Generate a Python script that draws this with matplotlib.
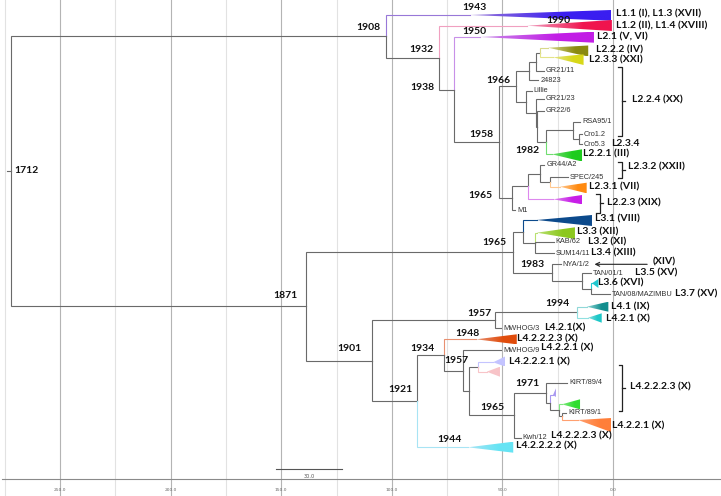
import matplotlib
matplotlib.use("Agg")
import matplotlib.pyplot as plt
import numpy as np
from matplotlib.patches import Polygon
from matplotlib.colors import to_rgb

# ------------------------------------------------------------------ data
# x values are ages (years before present), rows are vertical tree positions
node_names = ["root", "n1908", "n1932", "n1938", "n1958", "n1966", "nC", "nB", "nA",
              "nD", "nE", "nE2", "nH", "nG", "nF", "n1965a", "nI", "nJ", "nK",
              "n1871", "n1965b", "nP", "nQ", "n1983", "nN2", "nN3",
              "n1901", "n1957a", "n1994", "n1921", "n1934", "n1957b", "nT", "nU",
              "n1965c", "n1971", "nV", "nW", "nX"]
node_ages = [272.2, 102.6, 78.7, 71.9, 51.5, 44.0, 38.0, 34.9, 33.0,
             39.5, 34.9, 34.5, 30.4, 18.2, 15.4, 45.8, 38.3, 33.0, 28.5,
             138.8, 45.1, 40.8, 35.3, 27.7, 13.9, 10.1,
             109.1, 53.3, 16.5, 88.7, 76.3, 67.7, 65.1, 61.2,
             44.8, 30.4, 28.5, 24.4, 22.9]
node_children = [["n1908", "n1871"], ["cL1", "n1932"], ["cL12", "n1938"], ["cL21", "n1958"],
                 ["n1966", "n1965a"], ["nC", "nD"], ["nB", "t24823"], ["nA", "tGR2111"],
                 ["cL222", "cL233"], ["tLillie", "nE"], ["tGR2123", "nE2"], ["tGR226", "nH"],
                 ["nG", "cL221"], ["tRSA", "nF"], ["tCro12", "tCro53"], ["nI", "tM1"],
                 ["nJ", "cL223"], ["tGR44", "nK"], ["tSPEC", "cL231"],
                 ["n1965b", "n1901"], ["nP", "n1983"], ["cL31", "nQ"], ["cL33", "tKAB", "tSUM"],
                 ["tNYA", "nN2"], ["tTAN01", "nN3"], ["cL36", "tTAN08"],
                 ["n1957a", "n1921"], ["n1994", "tMWHOG3"], ["cL41", "cL421"],
                 ["n1934", "cL42222"], ["cL42223", "n1957b"], ["tMWHOG9", "nT"],
                 ["nU", "n1965c"], ["cLav", "cPink"], ["n1971", "tKwh"], ["tKIRT4", "nV"],
                 ["cLavTiny", "nW"], ["cGreen4", "nX"], ["tKIRT1", "cOrange4"]]

tip_names = ["tGR2111", "t24823", "tLillie", "tGR2123", "tGR226", "tRSA", "tCro12", "tCro53",
             "tGR44", "tSPEC", "tM1", "tKAB", "tSUM", "tNYA", "tTAN01", "tTAN08",
             "tMWHOG3", "tMWHOG9", "tKIRT4", "tKIRT1", "tKwh"]
tip_labels = ["GR21/11", "24823", "Lillie", "GR21/23", "GR22/6", "RSA95/1", "Cro1.2", "Cro5.3",
              "GR44/A2", "SPEC/245", "M1", "KAB/62", "SUM14/11", "NYA/1/2", "TAN/01/1",
              "TAN/08/MAZIMBU", "MWHOG/3", "MWHOG/9", "KIRT/89/4", "KIRT/89/1", "Kwh/12"]
tip_ages = [31.4, 33.7, 36.8, 31.4, 31.4, 14.9, 14.0, 14.0,
            31.0, 20.3, 44.2, 26.8, 26.7, 23.7, 9.8, 1.5,
            50.6, 50.6, 20.8, 21.1, 41.7]
tip_rows = [70.7, 80.0, 90.7, 99.0, 111.0, 121.7, 134.3, 144.0,
            165.0, 177.3, 210.0, 241.7, 253.3, 264.3, 273.3, 294.3,
            328.3, 350.0, 382.7, 412.7, 437.7]

clade_names = ["cL1", "cL12", "cL21", "cL222", "cL233", "cL221", "cL231", "cL223",
               "cL31", "cL33", "cL36", "cL41", "cL421", "cL42223", "cLav", "cPink",
               "cLavTiny", "cGreen4", "cOrange4", "cL42222"]
clade_apex_ages = [64.6, 38.9, 60.1, 29.4, 27.1, 27.6, 24.0, 27.1,
                   34.5, 34.5, 9.5, 11.9, 11.3, 61.9, 54.2, 57.1,
                   27.1, 23.1, 15.8, 65.6]
clade_base_ages = [0.9, 0.5, 8.6, 11.2, 13.3, 14.0, 11.9, 14.0,
                   9.5, 17.2, 6.6, 2.1, 5.1, 43.5, 48.8, 51.1,
                   25.8, 14.9, 0.9, 45.1]
clade_rows = [15.0, 25.7, 37.0, 47.7, 57.3, 154.3, 186.7, 199.3,
              220.0, 232.7, 283.3, 306.7, 317.7, 339.3, 362.3, 371.7,
              395.0, 404.3, 420.0, 447.3]
clade_tops = [10.0, 20.0, 31.7, 45.5, 54.3, 149.3, 182.7, 195.0,
              215.0, 227.3, 279.0, 301.7, 313.3, 334.3, 356.5, 366.7,
              388.3, 399.3, 418.0, 441.7]
clade_bottoms = [20.7, 31.0, 42.7, 56.5, 65.0, 161.5, 193.3, 204.3,
                 226.0, 239.0, 288.0, 311.7, 322.7, 344.3, 366.5, 376.7,
                 397.0, 409.3, 432.0, 452.7]
clade_colors = ["#3a1ef0", "#f0144e", "#c21ee6", "#8a8a10", "#d8d818", "#1ecc1e", "#ff8a10", "#c81ee8",
                "#0c4a8c", "#8cc81e", "#20c8d0", "#128e8e", "#1ec8c8", "#e04c0c", "#c4c4ff", "#f8c4c8",
                "#a898f0", "#30dd30", "#ff7f3a", "#66e4f4"]
clade_branch_colors = ["#9878d8", "#f0a0c0", "#c890e8", "#d8d88a", "#e4e48a", "#70dd70", "#ffc890", "#dd88ee",
                       "#0c4a8c", "#b8e070", "#20c8d0", "#90d8d8", "#90e0e0", "#e89070", "#c4c4ff", "#f8c4c8",
                       "#a898f0", "#80e880", "#ffa070", "#a8e4f4"]

# node date labels: node, text, offset of right edge (px), vertical offset (px)
date_nodes = ["n1908", "n1932", "n1938", "n1958", "n1966", "nH", "n1965a", "n1871", "n1965b",
              "n1983", "n1994", "n1957a", "n1901", "n1921", "n1934", "n1957b", "n1965c", "n1971"]
date_texts = ["1908", "1932", "1938", "1958", "1966", "1982", "1965", "1871", "1965",
              "1983", "1994", "1957", "1901", "1921", "1934", "1957", "1965", "1971"]
date_dx = [-6, -5, -20, -6, -5, -6, -19, -8, -6.6, -7.7, -6.5, -4, -9.7, -4.7, -10, 5, -9, -5.7]
date_dy = [-9, -8.5, -2, -8, -6, 8, -3, -11, -9.5, -8, -9, -7, -11.7, -11.8, -6.6, -9.8, -7.5, -8.7]

# clade date labels: clade, text, center offset (px) from apex
cdate_clades = ["cL1", "cL12", "cL21", "cL42223", "cL42222"]
cdate_texts = ["1943", "1990", "1950", "1948", "1944"]
cdate_dx = [4, 31, -6, -9, -18]
cdate_dy = [-8, -5, -5.3, -5.3, -8]

# bold lineage labels: text, age of left edge, row
lin_texts = ["L1.1 (I), L1.3 (XVII)", "L1.2 (II), L1.4 (XVIII)", "L2.1 (V, VI)", "L2.2.2 (IV)",
             "L2.3.3 (XXI)", "L2.2.4 (XX)", "L2.3.4", "L2.2.1 (III)", "L2.3.2 (XXII)",
             "L2.3.1 (VII)", "L2.2.3 (XIX)", "L3.1 (VIII)", "L3.3 (XII)", "L3.2 (XI)",
             "L3.4 (XIII)", "(XIV)", "L3.5 (XV)", "L3.6 (XVI)", "L3.7 (XV)", "L4.1 (IX)",
             "L4.2.1 (X)", "L4.2.1(X)", "L4.2.2.2.3 (X)", "L4.2.2.1 (X)", "L4.2.2.2.1 (X)",
             "L4.2.2.2.3 (X)", "L4.2.2.1 (X)", "L4.2.2.2.3 (X)", "L4.2.2.2.2 (X)"]
lin_ages = [-1.2, -1.2, 7.4, 7.7, 10.8, -8.6, 0.9, 13.4, -6.8,
            10.7, 2.8, 8.1, 16.1, 11.2, 10.1, -18.1, -9.9, 6.6, -28.0, 0.9,
            3.3, 31.1, 43.3, 32.5, 46.9, -7.7, 0.3, 28.2, 43.9]
lin_rows = [14, 25.7, 37.3, 50, 60, 100, 144, 154.3, 166.7,
            186.7, 202.7, 219.3, 231.7, 241.7, 253.3, 262, 273.3, 283.3, 294.3, 306.7,
            319, 327.7, 339, 348.3, 361.7, 387.3, 425.7, 436, 446]

bracket_ages = [-3.9, -3.9, 5.9, -4.2]
bracket_tops = [66.7, 161.7, 194.0, 365.0]
bracket_bottoms = [136.0, 178.3, 212.7, 410.7]

arrow_from_age, arrow_to_age, arrow_row = -16.7, 9.6, 264.3

grid_ages = [275, 250, 225, 200, 175, 150, 125, 100, 75, 50, 25, 0]
tick_ages = [250, 200, 150, 100, 50, 0]
tick_labels = ["250.0", "200.0", "150.0", "100.0", "50.0", "0.0"]
scale_len = 30.0
scale_start_age = 152.4

# ------------------------------------------------------------------ layout
W, H = 721, 496
PXY = 2.212          # pixels per year
ZERO_PX = 613        # pixel column of age 0
BRANCH = "#6a6a6a"

fig = plt.figure(figsize=(W / 100, H / 100), dpi=100)
ax = fig.add_axes([0, 0, 1, 1])
ax.axis("off")
xl = (ZERO_PX / PXY, (ZERO_PX - W) / PXY)

age = dict(zip(node_names, node_ages))
age.update(zip(tip_names, tip_ages))
children = dict(zip(node_names, node_children))
row = dict(zip(tip_names, tip_rows))
cinfo = {}
for i, n in enumerate(clade_names):
    cinfo[n] = dict(apex=clade_apex_ages[i], base=clade_base_ages[i], top=clade_tops[i],
                    bot=clade_bottoms[i], color=clade_colors[i], bcol=clade_branch_colors[i])
    row[n] = clade_rows[i]
    age[n] = clade_apex_ages[i]


def get_row(n):
    if n in row:
        return row[n]
    ch = children[n]
    r = (get_row(ch[0]) + get_row(ch[-1])) / 2.0
    row[n] = r
    return r


get_row("root")

# grid
for g in grid_ages:
    dark = g % 50 == 0
    ax.plot([g, g], [0, H], color="#b4b4b4" if dark else "#e2e2e2", lw=0.8, zorder=0)
ax.plot([xl[0] - 1, xl[1]], [479, 479], color="#8a8a8a", lw=0.8, zorder=0)
for t, lab in zip(tick_ages, tick_labels):
    ax.text(t, 490, lab, fontsize=3.2, color="#666666", ha="center", va="center")

# scale bar
ax.plot([scale_start_age, scale_start_age - scale_len], [469.3, 469.3], color="#555555", lw=0.8)
ax.text(scale_start_age - scale_len / 2, 476, "%.1f" % scale_len, fontsize=3.6, color="#555555",
        ha="center", va="center")

# root stub
ax.plot([age["root"] + 4 / PXY, age["root"]], [row["root"]] * 2, color=BRANCH, lw=0.8)

# branches
for n in node_names:
    px, py = age[n], row[n]
    for c in children[n]:
        col = cinfo[c]["bcol"] if c in cinfo else BRANCH
        ax.plot([px, px, age[c]], [py, row[c], row[c]], color=col, lw=0.8, zorder=1,
                solid_joinstyle="miter")


# gradient triangles
def triangle(ci, r):
    a, b = ci["apex"], ci["base"]
    poly = Polygon([(a, r), (b, ci["top"]), (b, ci["bot"])], closed=True,
                   facecolor="none", edgecolor="none")
    ax.add_patch(poly)
    c1 = np.array(to_rgb(ci["bcol"]))
    c2 = np.array(to_rgb(ci["color"]))
    t = np.clip(np.linspace(0, 1, 256) * 1.5, 0, 1)[:, None]
    rgb = (1 - t) * c1 + t * c2
    im = ax.imshow(rgb[None, :, :], extent=(a, b, ci["bot"], ci["top"]), aspect="auto",
                   interpolation="bilinear", zorder=2)
    im.set_clip_path(poly)


for n in clade_names:
    triangle(cinfo[n], row[n])

# tip labels
for n, lab in zip(tip_names, tip_labels):
    ax.annotate(lab, (age[n], row[n]), xytext=(2, 0), textcoords="offset pixels",
                fontsize=5.3, family="Liberation Sans", color="#333333", ha="left", va="center",
                zorder=3)

BOLD = dict(family="Lato", fontweight="bold", fontsize=7.5, color="#111111", zorder=3)
# node date labels
for n, tx, dx, dy in zip(date_nodes, date_texts, date_dx, date_dy):
    ax.annotate(tx, (age[n], row[n]), xytext=(dx, -dy), textcoords="offset pixels",
                ha="right", va="center", **BOLD)
ax.annotate("1712", (age["root"], row["root"]), xytext=(3, 1), textcoords="offset pixels",
            ha="left", va="center", **BOLD)
for n, tx, dx, dy in zip(cdate_clades, cdate_texts, cdate_dx, cdate_dy):
    ax.annotate(tx, (age[n], row[n]), xytext=(dx, -dy), textcoords="offset pixels",
                ha="center", va="center", **BOLD)

# lineage labels
for tx, a, r in zip(lin_texts, lin_ages, lin_rows):
    ax.text(a, r, tx, ha="left", va="center", **BOLD)

# brackets
for a, t0, t1 in zip(bracket_ages, bracket_tops, bracket_bottoms):
    w = 3.5 / PXY
    ax.plot([a + w, a, a, a + w], [t0, t0, t1, t1], color="#222222", lw=0.9, zorder=3)
    mid = (t0 + t1) / 2
    ax.plot([a, a - 3 / PXY], [mid, mid], color="#222222", lw=0.9, zorder=3)

# arrow
ax.annotate("", xy=(arrow_to_age, arrow_row), xytext=(arrow_from_age, arrow_row),
            arrowprops=dict(arrowstyle="->", color="#222222", lw=0.8, mutation_scale=7))

ax.set_xlim(*xl)
ax.set_ylim(H, 0)
fig.savefig("out.png", dpi=100)
